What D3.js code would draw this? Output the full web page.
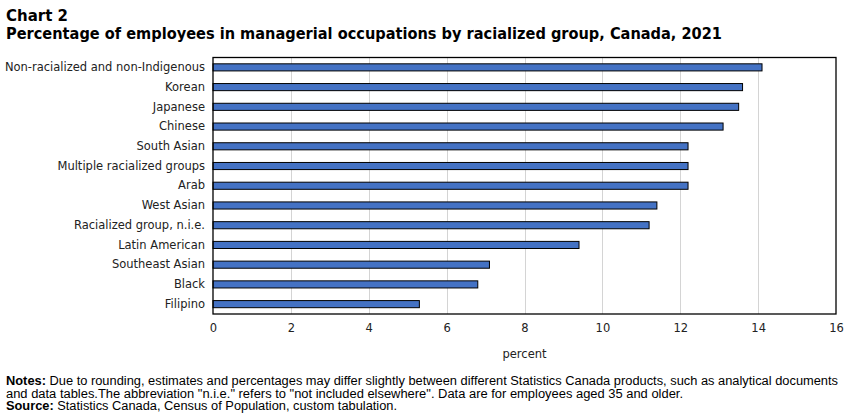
<!DOCTYPE html>
<html>
<head>
<meta charset="utf-8">
<script src="https://cdn.jsdelivr.net/npm/d3@7"></script>
<style>
  body { margin: 0; background: #fff; }
  svg { display: block; }
</style>
</head>
<body>
<script>
// Data
const categorias = [
  "Non-racialized and non-Indigenous",
  "Korean",
  "Japanese",
  "Chinese",
  "South Asian",
  "Multiple racialized groups",
  "Arab",
  "West Asian",
  "Racialized group, n.i.e.",
  "Latin American",
  "Southeast Asian",
  "Black",
  "Filipino",
];
const porcentajes = [14.1, 13.6, 13.5, 13.1, 12.2, 12.2, 12.2, 11.4, 11.2, 9.4, 7.1, 6.8, 5.3];
const ticksX = [0, 2, 4, 6, 8, 10, 12, 14, 16];

const datos = categorias.map((c, i) => ({ categoria: c, valor: porcentajes[i] }));

const WIDTH = 851;
const HEIGHT = 417;
const MARGIN = { top: 57.5, bottom: 103, left: 213, right: 15 };
const WIDTHVIS = WIDTH - MARGIN.left - MARGIN.right;
const HEIGHTVIS = HEIGHT - MARGIN.top - MARGIN.bottom;

const FONT = "'DejaVu Sans', Verdana, sans-serif";

const svg = d3.select("body")
  .append("svg")
  .attr("width", WIDTH)
  .attr("height", HEIGHT)
  .style("font-family", FONT);

// Titles
svg.append("text")
  .attr("x", 6).attr("y", 21)
  .attr("font-size", 15).attr("font-weight", "bold")
  .text("Chart 2");
svg.append("text")
  .attr("x", 6).attr("y", 39)
  .attr("font-size", 15).attr("font-weight", "bold")
  .attr("textLength", 716)
  .attr("lengthAdjust", "spacingAndGlyphs")
  .text("Percentage of employees in managerial occupations by racialized group, Canada, 2021");

const escalaX = d3.scaleLinear()
  .domain([0, 16])
  .range([0, WIDTHVIS]);

const escalaY = d3.scaleBand()
  .domain(categorias)
  .range([0, HEIGHTVIS])
  .paddingInner(0.64)
  .paddingOuter(0.32);

const contenedorVis = svg.append("g")
  .attr("transform", `translate(${MARGIN.left}, ${MARGIN.top})`);

// Grid lines
contenedorVis.selectAll("line.grid")
  .data(ticksX.slice(1, -1))
  .join("line")
  .attr("class", "grid")
  .attr("x1", (d) => Math.round(escalaX(d)) + 0.5)
  .attr("x2", (d) => Math.round(escalaX(d)) + 0.5)
  .attr("y1", 0)
  .attr("y2", HEIGHTVIS)
  .attr("stroke", "#d4d4d4")
  .attr("stroke-width", 1);

// Bars
contenedorVis.selectAll("rect.barra")
  .data(datos)
  .join("rect")
  .attr("class", "barra")
  .attr("x", escalaX(0))
  .attr("y", (d) => escalaY(d.categoria))
  .attr("width", (d) => escalaX(d.valor))
  .attr("height", escalaY.bandwidth())
  .attr("fill", "#4472c4")
  .attr("stroke", "#000")
  .attr("stroke-width", 1);

// Plot frame
contenedorVis.append("rect")
  .attr("x", 0).attr("y", 0)
  .attr("width", WIDTHVIS).attr("height", HEIGHTVIS)
  .attr("fill", "none")
  .attr("stroke", "#000")
  .attr("stroke-width", 1.3);

// Y axis (labels only)
const ejeY = d3.axisLeft(escalaY).tickSize(0).tickPadding(8);
const contenedorEjeY = svg.append("g")
  .attr("transform", `translate(${MARGIN.left}, ${MARGIN.top})`)
  .call(ejeY);
contenedorEjeY.select(".domain").remove();
contenedorEjeY.selectAll("text")
  .attr("font-size", 11.5)
  .attr("font-family", FONT)
  .attr("fill", "#222");

// X axis (labels only)
const ejeX = d3.axisBottom(escalaX).tickValues(ticksX).tickSize(0).tickPadding(10);
const contenedorEjeX = svg.append("g")
  .attr("transform", `translate(${MARGIN.left}, ${MARGIN.top + HEIGHTVIS})`)
  .call(ejeX);
contenedorEjeX.select(".domain").remove();
contenedorEjeX.selectAll("text")
  .attr("font-size", 11.5)
  .attr("font-family", FONT)
  .attr("fill", "#222");

svg.append("text")
  .attr("x", MARGIN.left + WIDTHVIS / 2)
  .attr("y", 358)
  .attr("text-anchor", "middle")
  .attr("font-size", 11.5)
  .attr("fill", "#222")
  .text("percent");

// Notes: condensed to the widths of the reference lines
const NOTAS = "'Liberation Sans', Arial, sans-serif";
const notas = svg.append("g")
  .attr("font-family", NOTAS)
  .attr("font-size", 12);
const l1 = notas.append("text").attr("x", 6).attr("y", 385)
  .attr("textLength", 832).attr("lengthAdjust", "spacingAndGlyphs");
l1.append("tspan").attr("font-weight", "bold").text("Notes:");
l1.append("tspan").text(" Due to rounding, estimates and percentages may differ slightly between different Statistics Canada products, such as analytical documents");
notas.append("text").attr("x", 6).attr("y", 397.5)
  .attr("textLength", 677).attr("lengthAdjust", "spacingAndGlyphs")
  .text("and data tables.The abbreviation \"n.i.e.\" refers to \"not included elsewhere\". Data are for employees aged 35 and older.");
const l3 = notas.append("text").attr("x", 6).attr("y", 410)
  .attr("textLength", 391).attr("lengthAdjust", "spacingAndGlyphs");
l3.append("tspan").attr("font-weight", "bold").text("Source:");
l3.append("tspan").text("  Statistics Canada, Census of Population, custom tabulation.");
</script>
</body>
</html>
